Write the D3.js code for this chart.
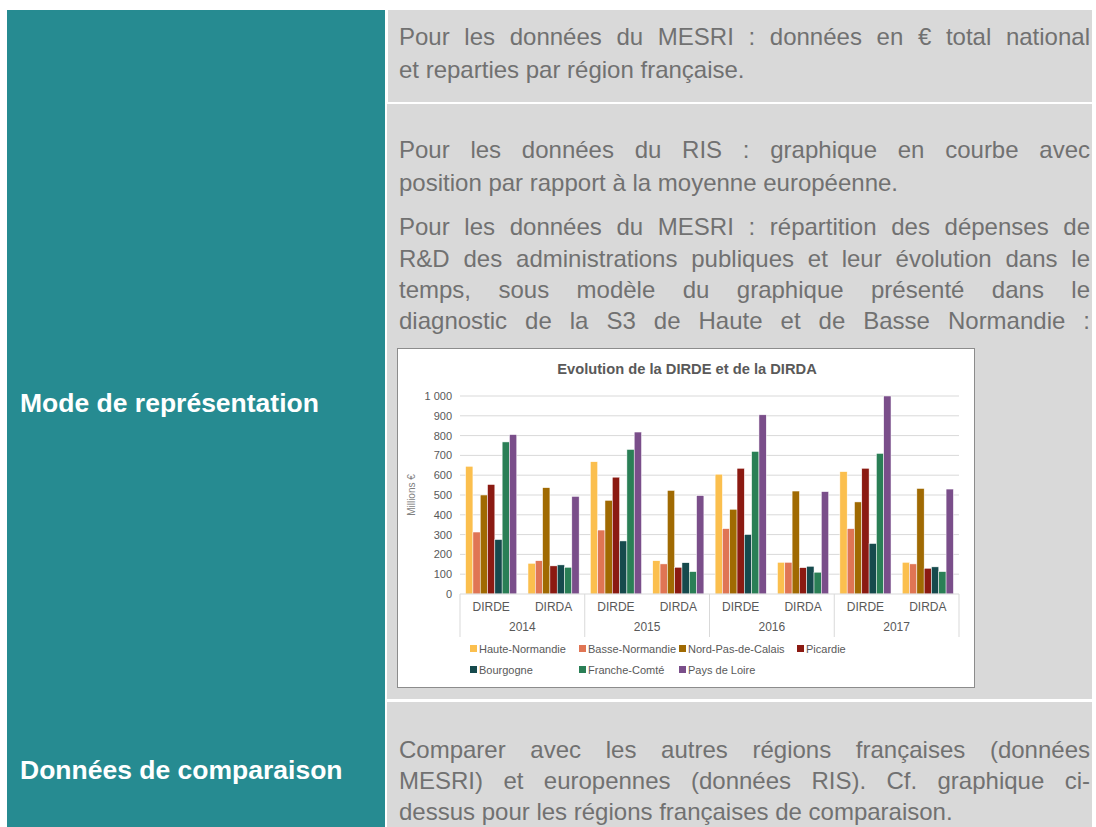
<!DOCTYPE html>
<html>
<head>
<meta charset="utf-8">
<script src="https://cdn.jsdelivr.net/npm/d3@7"></script>
<style>
  body { margin: 0; background: #fff; width: 1096px; height: 827px; overflow: hidden; position: relative; font-family: "Liberation Sans", Arial, sans-serif; }
  .teal { position: absolute; background: #268b91; }
  .grey { position: absolute; background: #d9d9d9; }
  .line { position: absolute; left: 399px; width: 691px; height: 32px; line-height: 32px; font-size: 24px; color: #717171; white-space: nowrap; }
  .just { text-align: justify; text-align-last: justify; }
  .head { position: absolute; left: 20px; color: #fff; font-weight: bold; font-size: 26.5px; line-height: 32px; height: 32px; white-space: nowrap; }
  #chart { position: absolute; left: 397px; top: 348px; background: #fff; border: 1px solid #8c8c8c; }
</style>
</head>
<body>
<div class="teal" style="left:7px;top:10px;width:378px;height:817px"></div>
<div class="grey" style="left:388px;top:10px;width:704px;height:92px"></div>
<div class="grey" style="left:387px;top:104px;width:705px;height:595px"></div>
<div class="grey" style="left:387px;top:702px;width:705px;height:125px"></div>
<div id="text"></div>
<svg id="chart" width="576" height="338"></svg>
<script>
// text of the table, one entry per printed line
const lines = [
  { t: "Pour les données du MESRI : données en € total national", y: 37, j: true },
  { t: "et reparties par région française.", y: 70, j: false },
  { t: "Pour les données du RIS : graphique en courbe avec", y: 150, j: true },
  { t: "position par rapport à la moyenne européenne.", y: 183, j: false },
  { t: "Pour les données du MESRI : répartition des dépenses de", y: 227, j: true },
  { t: "R&D des administrations publiques et leur évolution dans le", y: 259, j: true },
  { t: "temps, sous modèle du graphique présenté dans le", y: 290, j: true },
  { t: "diagnostic de la S3 de Haute et de Basse Normandie :", y: 321, j: true },
  { t: "Comparer avec les autres régions françaises (données", y: 750, j: true },
  { t: "MESRI) et europennes (données RIS). Cf. graphique ci-", y: 781, j: true },
  { t: "dessus pour les régions françaises de comparaison.", y: 812, j: false }
];
const heads = [
  { t: "Mode de représentation", y: 403 },
  { t: "Données de comparaison", y: 770 }
];

d3.select('#text').selectAll('div.line')
  .data(lines).enter().append('div')
  .attr('class', d => d.j ? 'line just' : 'line')
  .style('top', d => (d.y - 16) + 'px')
  .text(d => d.t);
d3.select('#text').selectAll('div.head')
  .data(heads).enter().append('div')
  .attr('class', 'head')
  .style('top', d => (d.y - 16) + 'px')
  .text(d => d.t);

// chart data
const years = ['2014', '2015', '2016', '2017'];
const kinds = ['DIRDE', 'DIRDA'];
const regions = ['Haute-Normandie', 'Basse-Normandie', 'Nord-Pas-de-Calais', 'Picardie', 'Bourgogne', 'Franche-Comté', 'Pays de Loire'];
const colors = ['#fbbf4e', '#e07554', '#a06a02', '#8b1a12', '#164a4d', '#2a7f56', '#7a4e8a'];
// one value per year/kind group, in group order
const haute   = [645, 155, 668, 168, 605, 160, 618, 160];
const basse   = [313, 168, 323, 152, 330, 160, 330, 152];
const nord    = [500, 537, 473, 523, 428, 520, 465, 533];
const picardie = [553, 142, 590, 135, 635, 133, 635, 130];
const bourgogne = [275, 147, 268, 158, 300, 140, 255, 137];
const franche = [768, 135, 730, 113, 720, 110, 710, 113];
const pays    = [805, 493, 818, 497, 905, 517, 1000, 530];
const series = [haute, basse, nord, picardie, bourgogne, franche, pays];
const yTicks = [0, 100, 200, 300, 400, 500, 600, 700, 800, 900, 1000];

const groups = [];
years.forEach(y => kinds.forEach(k => groups.push(y + '-' + k)));

const svg = d3.select('#chart');
const grey = '#595959';

const x = d3.scaleBand().domain(groups).range([62, 561]).paddingInner(0.18).paddingOuter(0.09);
const xs = d3.scaleBand().domain(d3.range(regions.length)).range([0, x.bandwidth()]);
const y = d3.scaleLinear().domain([0, 1000]).range([245, 47]);
const fmt = v => d3.format(',')(v).replace(',', ' ');

svg.append('text')
  .attr('x', 289).attr('y', 25)
  .attr('text-anchor', 'middle')
  .attr('font-size', 14.7).attr('font-weight', 'bold')
  .attr('fill', grey)
  .text('Evolution de la DIRDE et de la DIRDA');

svg.append('g').selectAll('line')
  .data(yTicks.filter(v => v > 0)).enter().append('line')
  .attr('x1', 62).attr('x2', 561)
  .attr('y1', d => y(d)).attr('y2', d => y(d))
  .attr('stroke', '#d9d9d9').attr('stroke-width', 1);

svg.append('g').selectAll('text')
  .data(yTicks).enter().append('text')
  .attr('x', 54).attr('y', d => y(d) + 4)
  .attr('text-anchor', 'end')
  .attr('font-size', 11).attr('fill', grey)
  .text(fmt);

svg.append('text')
  .attr('transform', 'translate(17,146) rotate(-90)')
  .attr('text-anchor', 'middle')
  .attr('font-size', 10).attr('fill', '#7f7f7f')
  .text('Millions €');

const bars = svg.append('g');
series.forEach((vals, i) => {
  bars.append('g').selectAll('rect')
    .data(vals).enter().append('rect')
    .attr('x', (d, g) => x(groups[g]) + xs(i))
    .attr('width', xs.bandwidth())
    .attr('y', d => y(d))
    .attr('height', d => y(0) - y(d))
    .attr('fill', colors[i])
    .attr('stroke', '#fff').attr('stroke-width', 0.5);
});

// x axis
svg.append('line')
  .attr('x1', 62).attr('x2', 561)
  .attr('y1', y(0)).attr('y2', y(0))
  .attr('stroke', '#d9d9d9');
const step = x.step();
svg.append('g').selectAll('line')
  .data(d3.range(years.length + 1)).enter().append('line')
  .attr('x1', d => 62 + d * step * 2).attr('x2', d => 62 + d * step * 2)
  .attr('y1', y(0)).attr('y2', 288)
  .attr('stroke', '#d9d9d9');
svg.append('g').selectAll('text')
  .data(groups).enter().append('text')
  .attr('x', d => x(d) + x.bandwidth() / 2)
  .attr('y', 262)
  .attr('text-anchor', 'middle')
  .attr('font-size', 12).attr('fill', grey)
  .text(d => d.split('-')[1]);
svg.append('g').selectAll('text')
  .data(years).enter().append('text')
  .attr('x', (d, i) => 62 + (i + 0.5) * step * 2)
  .attr('y', 282)
  .attr('text-anchor', 'middle')
  .attr('font-size', 12).attr('fill', grey)
  .text(d => d);

// legend
const legX = [72, 181, 281, 399];
const leg = svg.append('g').selectAll('g')
  .data(regions).enter().append('g')
  .attr('transform', (d, i) => `translate(${legX[i % 4]},${i < 4 ? 300 : 321})`);
leg.append('rect')
  .attr('x', 0).attr('y', -4).attr('width', 7).attr('height', 7)
  .attr('fill', (d, i) => colors[i]);
leg.append('text')
  .attr('x', 9).attr('y', 3.5)
  .attr('font-size', 11).attr('fill', grey)
  .text(d => d);
</script>
</body>
</html>
